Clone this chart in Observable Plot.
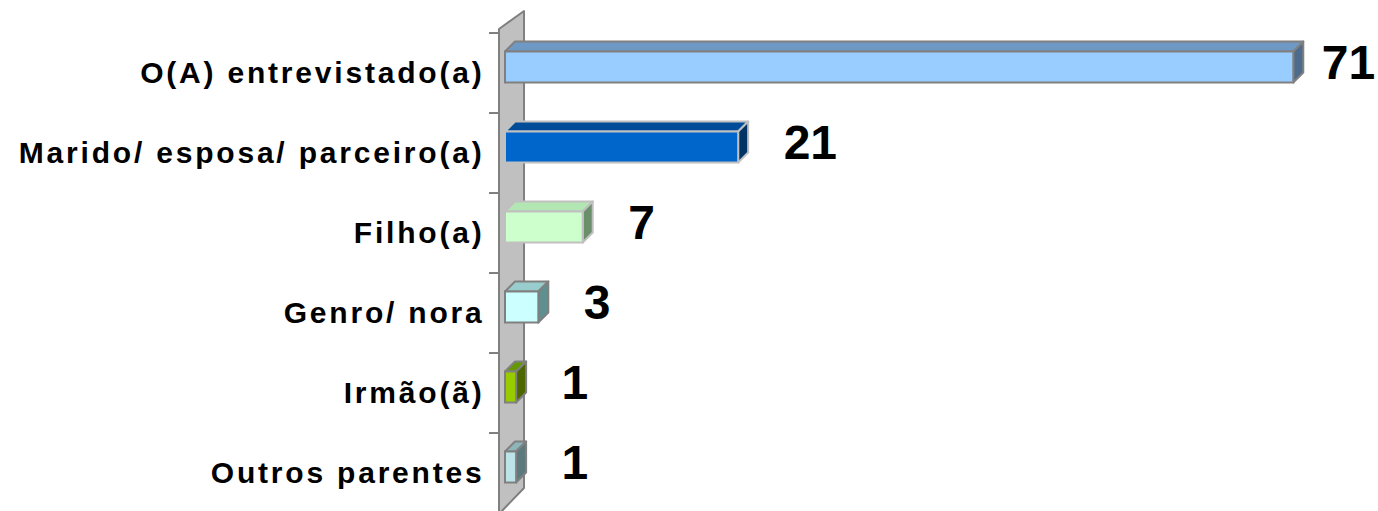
<!DOCTYPE html>
<html><head><meta charset="utf-8">
<script src="https://cdn.jsdelivr.net/npm/d3@7"></script>
<script src="https://cdn.jsdelivr.net/npm/@observablehq/plot@0.6"></script>
<style>
body{margin:0;background:#fff}
svg{display:block}
g[aria-label="y-axis tick label"] text{letter-spacing:2.8px}
</style>
</head><body><div id="chart"></div>
<script>
const categories = ["O(A) entrevistado(a)", "Marido/ esposa/ parceiro(a)", "Filho(a)", "Genro/ nora", "Irmão(ã)", "Outros parentes"];
const values = [71, 21, 7, 3, 1, 1];

// styles (kept apart from the data)
const frontColors = ["#99CCFF", "#0066CC", "#CCFFCC", "#CCFFFF", "#99CC00", "#BCE3E8"];
const topColors   = ["#6E99C4", "#004C99", "#B2E6B2", "#99CCCC", "#669900", "#8DB5BA"];
const sideColors  = ["#4D6B8C", "#003366", "#6B8E6B", "#5F8F8F", "#4C6600", "#5C7A7E"];
const strokeColors = ["#808080", "#C0C0C0", "#C0C0C0", "#808080", "#808080", "#808080"];

const data = categories.map((c, i) => ({category: c, value: values[i], i}));

const D = 10;          // depth of the bars (px)
const insetTop = 18.5, insetBottom = 30.5;

function poly(g, pts, fill, stroke, sw) {
  g.append("polygon")
    .attr("points", pts.map(p => p.join(",")).join(" "))
    .attr("fill", fill)
    .attr("stroke", stroke)
    .attr("stroke-width", sw)
    .attr("stroke-linejoin", "round");
}

function wall(index, scales) {
  const {x, y} = scales;
  const g = d3.create("svg:g");
  const x0 = x(0) - 6, w = 25, dd = 18;
  const [r0, r1] = y.range();
  poly(g, [[x0, r0 - 2], [x0 + w, r0 - 2 - dd], [x0 + w, r1 - 4 - dd - 4], [x0, r1]], "#C0C0C0", "#808080", 2);
  for (const c of categories) {
    g.append("line")
      .attr("x1", x0 - 10).attr("x2", x0)
      .attr("y1", y(c)).attr("y2", y(c))
      .attr("stroke", "#808080").attr("stroke-width", 2);
  }
  return g.node();
}

function boxes(index, scales) {
  const {x, y} = scales;
  const g = d3.create("svg:g");
  for (const d of data) {
    const xa = x(0), xb = x(d.value);
    const ya = y(d.category) + insetTop;
    const yb = y(d.category) + y.bandwidth() - insetBottom;
    poly(g, [[xa, ya], [xb, ya], [xb + D, ya - D], [xa + D, ya - D]], topColors[d.i], strokeColors[d.i], 2);
    poly(g, [[xb, ya], [xb + D, ya - D], [xb + D, yb - D], [xb, yb]], sideColors[d.i], strokeColors[d.i], 2);
  }
  return g.node();
}

const maxValue = d3.max(values);
const valueText = (filter, dx) => Plot.text(data, {
  filter, x: "value", y: "category", text: d => String(d.value),
  dx, dy: -10, textAnchor: "start", fontSize: 48, fontWeight: "bold", fill: "#000"
});

const chart = Plot.plot({
  width: 1378,
  height: 511,
  marginLeft: 505,
  marginRight: 7,
  marginTop: 31,
  marginBottom: 0,
  style: {fontFamily: "'Liberation Sans', Arial, sans-serif", background: "#fff", color: "#000"},
  x: {domain: [0, 78], range: [505, 1371], axis: null},
  y: {domain: categories, range: [31, 514], padding: 0, label: null},
  color: {type: "identity"},
  marks: [
    wall,
    boxes,
    Plot.barX(data, {
      x1: () => 0, x2: "value", y: "category",
      fill: d => frontColors[d.i], stroke: d => strokeColors[d.i], strokeWidth: 2,
      insetTop, insetBottom
    }),
    Plot.axisY({tickSize: 0, tickPadding: 21, fontSize: 30, fontWeight: "bold", label: null}),
    valueText(d => d.value < maxValue, 45),
    valueText(d => d.value === maxValue, 28)
  ]
});
document.getElementById("chart").append(chart);
</script>
</body></html>
